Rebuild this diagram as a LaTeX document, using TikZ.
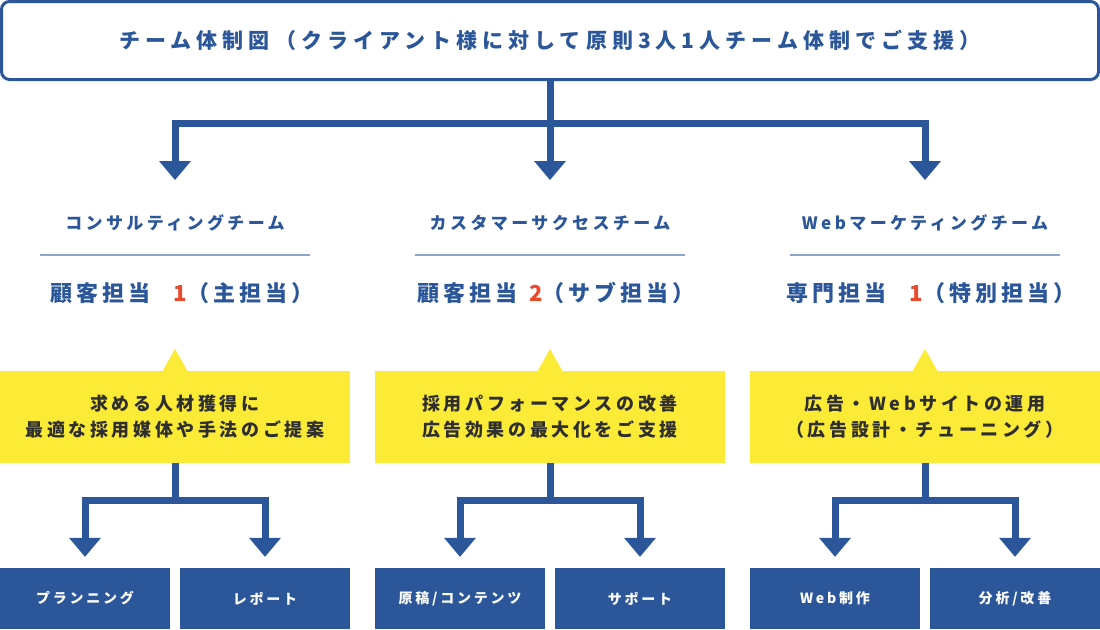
\documentclass[tikz,border=0pt]{standalone}
\usepackage{fontspec}
\usetikzlibrary{arrows.meta,calc}
\setmainfont{Noto Sans CJK JP}[LetterSpace=20]
\definecolor{cblue}{HTML}{2B579A}
\definecolor{cred}{HTML}{E84B2C}
\definecolor{cyellow}{HTML}{FCEB36}
\definecolor{cline}{HTML}{8DA6CC}
\definecolor{ctext}{HTML}{2E2E2E}
\begin{document}
\begin{tikzpicture}[x=1pt,y=-1pt,
 topbox/.style={draw=cblue, line width=3pt, rounded corners=8pt, minimum width=1097pt, minimum height=78pt, inner sep=0pt, font=\bfseries\fontsize{21}{25}\selectfont\addfontfeature{LetterSpace=24}, text=cblue},
 team/.style={font=\bfseries\fontsize{17}{20}\selectfont, text=cblue, inner sep=0pt},
 role/.style={font=\bfseries\fontsize{22}{26}\selectfont\addfontfeature{LetterSpace=18}, text=cblue, inner sep=0pt},
 ybox/.style={fill=cyellow, minimum width=350pt, minimum height=92pt, inner sep=0pt, align=center, text=ctext, font=\bfseries\fontsize{18}{26}\selectfont},
 bbox/.style={fill=cblue, minimum width=170pt, minimum height=61pt, inner sep=0pt, text=white, font=\bfseries\fontsize{14}{16}\selectfont},
 sepline/.style={draw=cline, line width=1.5pt},
 conn/.style={draw=cblue, line width=7pt, line join=miter, -{Triangle[width=32pt,length=19pt,line width=0pt]}},
 ]
\useasboundingbox (0,0) rectangle (1100,629);

% top box
\node[topbox] (top) at (550,40.5) {\raisebox{-1pt}{チーム体制図（クライアント様に対して原則3人1人チーム体制でご支援）}};

% arrow targets
\coordinate (j0) at (550,123.5);
\coordinate (a1) at (175,180);
\coordinate (a2) at (550,180);
\coordinate (a3) at (925,180);
\draw[conn] (top.south) -- (j0) -| (a1);
\draw[conn] (top.south) -- (a2);
\draw[conn] (top.south) -- (j0) -| (a3);

% team titles
\node[team] (t1) at (175,223) {コンサルティングチーム};
\node[team] (t2) at (550,223) {カスタマーサクセスチーム};
\node[team] (t3) at (925,223) {Webマーケティングチーム};
\draw[sepline] (40,255) -- (310,255);
\draw[sepline] (415,255) -- (685,255);
\draw[sepline] (790,255) -- (1060,255);

% roles
\node[role] (r1) at (182,293) {顧客担当\hspace{23pt}{\color{cred}1}（主担当）};
\node[role] (r2) at (556,293) {顧客担当\hspace{12pt}{\color{cred}2}（サブ担当）};
\node[role] (r3) at (931,293) {専門担当\hspace{23pt}{\color{cred}1}（特別担当）};

% yellow boxes
\foreach \n/\x in {y1/175,y2/550,y3/925}{
  \fill[cyellow] (\x-13,372) -- (\x,349) -- (\x+13,372) -- cycle;
}
\node[ybox] (y1) at (175,417) {求める人材獲得に\\最適な採用媒体や手法のご提案};
\node[ybox] (y2) at (550,417) {採用パフォーマンスの改善\\広告効果の最大化をご支援};
\node[ybox] (y3) at (925,417) {広告・Webサイトの運用\\（広告設計・チューニング）};

% bottom boxes
\node[bbox] (b11) at (85,598.5) {プランニング};
\node[bbox] (b12) at (265,598.5) {レポート};
\node[bbox] (b21) at (460,598.5) {原稿/コンテンツ};
\node[bbox] (b22) at (640,598.5) {サポート};
\node[bbox] (b31) at (835,598.5) {Web制作};
\node[bbox] (b32) at (1015,598.5) {分析/改善};

% lower connectors
\coordinate (j1) at (175,500.5);
\coordinate (j2) at (550,500.5);
\coordinate (j3) at (925,500.5);
\draw[conn, shorten >=11pt] (y1.south) -- (j1) -| (b11.north);
\draw[conn, shorten >=11pt] (y1.south) -- (j1) -| (b12.north);
\draw[conn, shorten >=11pt] (y2.south) -- (j2) -| (b21.north);
\draw[conn, shorten >=11pt] (y2.south) -- (j2) -| (b22.north);
\draw[conn, shorten >=11pt] (y3.south) -- (j3) -| (b31.north);
\draw[conn, shorten >=11pt] (y3.south) -- (j3) -| (b32.north);
\end{tikzpicture}
\end{document}
